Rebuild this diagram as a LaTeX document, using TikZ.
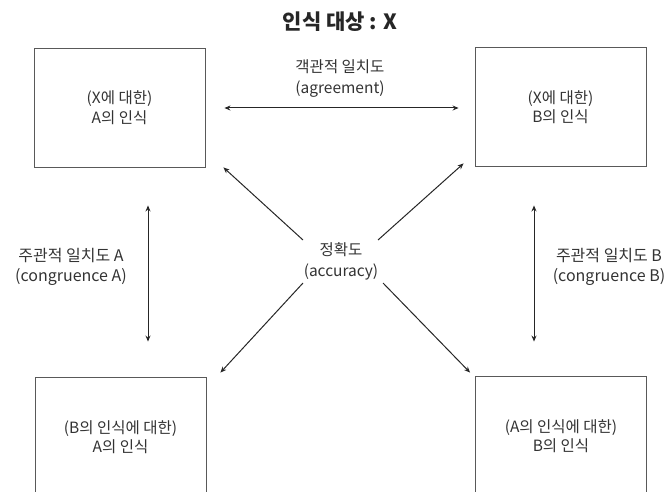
\documentclass[tikz,border=0pt]{standalone}
\usepackage{fontspec}
\newfontfamily\kr{Noto Sans CJK KR}
\usetikzlibrary{arrows.meta,calc}
\begin{document}
\begin{tikzpicture}[x=1pt,y=-1pt,
  box/.style={draw=black!65, line width=0.9pt, minimum width=171pt, minimum height=119pt,
    inner sep=0pt, align=center, text=black!80, font=\kr\fontsize{15.5}{19.5}\selectfont},
  lbl/.style={align=center, inner sep=1pt, text=black!80, font=\kr\fontsize{15.5}{21}\selectfont},
  tip/.tip={Stealth[length=6pt,width=5pt]},
  both/.style={line width=1pt, draw=black!85, tip-tip},
  one/.style={line width=1pt, draw=black!85, -tip}]
\useasboundingbox (0,0) rectangle (666,492);
\clip (0,0) rectangle (666,492);

\node[font=\kr\bfseries\fontsize{21}{24}\selectfont, text=black!85] (title) at (340,22) {인식 대상 : X};

\node[box] (tl) at (119.5,107.5) {(X에 대한)\\A의 인식};
\node[box] (tr) at (560.5,107) {(X에 대한)\\B의 인식};
\node[box] (bl) at (120.5,437) {(B의 인식에 대한)\\A의 인식};
\node[box] (br) at (561,436) {(A의 인식에 대한)\\B의 인식};

\node[lbl] (agr) at (340,79) {객관적 일치도\\(agreement)};
\node[lbl, font=\kr\fontsize{16}{20}\selectfont] (cA) at (71,267) {주관적 일치도 A\\(congruence A)};
\node[lbl, font=\kr\fontsize{16}{20}\selectfont] (cB) at (609,267) {주관적 일치도 B\\(congruence B)};
\node[lbl] (acc) at (341,261) {정확도\\(accuracy)};

\draw[both] ($(tl.east)+(19,0.5)$) -- ($(tr.west)+(-16,1)$);
\draw[both] ($(tl.south)+(28.5,38)$) -- ($(bl.north)+(27.5,-35.5)$);
\draw[both] ($(tr.south)+(-26.5,38.5)$) -- ($(br.north)+(-27,-34.5)$);

\draw[one] ($(acc)+(-38,-21)$) -- ($(tl.south east)+(18,0)$);
\draw[one] ($(acc)+(37,-21)$) -- ($(tr.south west)+(-11,-3.5)$);
\draw[one] ($(acc)+(-38,22)$) -- ($(bl.north east)+(14,-4.5)$);
\draw[one] ($(acc)+(42,22)$) -- ($(br.north west)+(-5,-3.5)$);
\end{tikzpicture}
\end{document}
